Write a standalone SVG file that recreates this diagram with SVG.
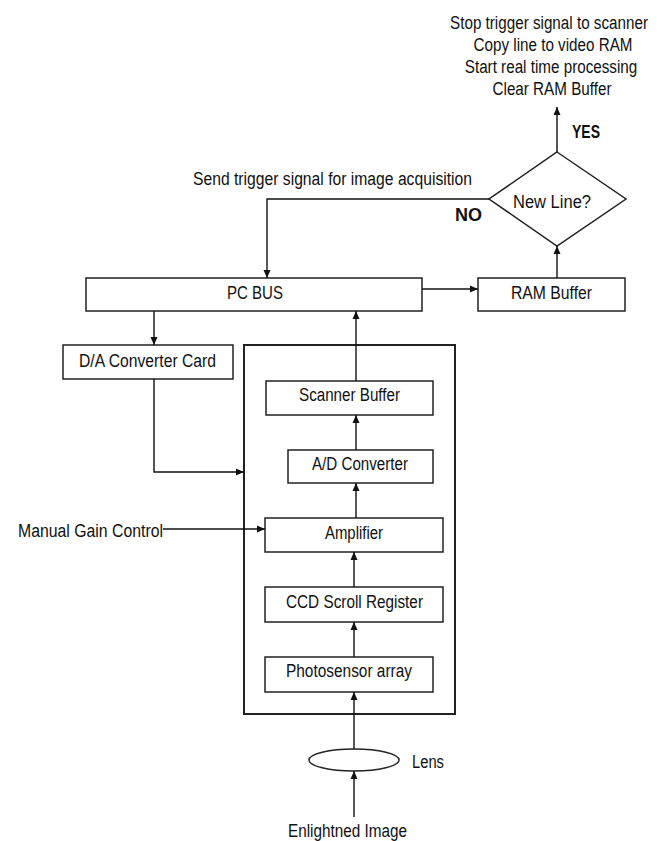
<svg xmlns="http://www.w3.org/2000/svg" width="657" height="841" viewBox="0 0 657 841">
<defs>
<marker id="ah" viewBox="0 0 8 8" refX="8" refY="4" markerWidth="8" markerHeight="8" markerUnits="userSpaceOnUse" orient="auto">
<path d="M0,0.5 L8,4 L0,7.5 z" fill="#111"/>
</marker>
<style>
text{font-family:"Liberation Sans",Arial,sans-serif;font-size:18px;fill:#111}
.b{font-weight:bold}
.m{text-anchor:middle}
.box{fill:#fff;stroke:#222;stroke-width:1.5}
.frame{fill:none;stroke:#222;stroke-width:2}
.c{fill:none;stroke:#111;stroke-width:1.4}
.ca{fill:none;stroke:#111;stroke-width:1.4;marker-end:url(#ah)}
</style>
</defs>
<rect width="657" height="841" fill="#fff"/>

<g id="outputs">
<text class="m" transform="translate(549,29) scale(0.846,1)">Stop trigger signal to scanner</text>
<text class="m" transform="translate(553,51) scale(0.846,1)">Copy line to video RAM</text>
<text class="m" transform="translate(551,73) scale(0.846,1)">Start real time processing</text>
<text class="m" transform="translate(552,95) scale(0.846,1)">Clear RAM Buffer</text>
</g>

<g id="scanner-frame">
<rect class="frame" x="244" y="345" width="211" height="369"/>
</g>

<g id="pc-bus">
<rect class="box" x="86" y="278" width="336" height="33"/>
<text x="227" y="299" textLength="56" lengthAdjust="spacingAndGlyphs">PC BUS</text>
</g>
<g id="ram-buffer">
<rect class="box" x="478" y="278" width="147" height="33"/>
<text x="511" y="299" textLength="81" lengthAdjust="spacingAndGlyphs">RAM Buffer</text>
</g>
<g id="new-line">
<polygon class="box" points="557,152 626,199 557,246 489,199"/>
<text x="513" y="208" textLength="78" lengthAdjust="spacingAndGlyphs">New Line?</text>
</g>
<g id="da-converter">
<rect class="box" x="63" y="345" width="170" height="34"/>
<text x="79" y="367" textLength="137" lengthAdjust="spacingAndGlyphs">D/A Converter Card</text>
</g>
<g id="scanner-buffer">
<rect class="box" x="266" y="381" width="167" height="34"/>
<text x="299" y="401" textLength="101" lengthAdjust="spacingAndGlyphs">Scanner Buffer</text>
</g>
<g id="ad-converter">
<rect class="box" x="288" y="450" width="145" height="33"/>
<text x="312" y="470" textLength="96" lengthAdjust="spacingAndGlyphs">A/D Converter</text>
</g>
<g id="amplifier">
<rect class="box" x="265" y="518" width="178" height="34"/>
<text x="325" y="539" textLength="58" lengthAdjust="spacingAndGlyphs">Amplifier</text>
</g>
<g id="ccd">
<rect class="box" x="265" y="587" width="178" height="35"/>
<text x="286" y="608" textLength="137" lengthAdjust="spacingAndGlyphs">CCD Scroll Register</text>
</g>
<g id="photosensor">
<rect class="box" x="265" y="657" width="168" height="35"/>
<text x="286" y="677" textLength="126" lengthAdjust="spacingAndGlyphs">Photosensor array</text>
</g>
<g id="lens">
<ellipse class="box" cx="354" cy="760" rx="45" ry="11"/>
<text x="412" y="768" textLength="32" lengthAdjust="spacingAndGlyphs">Lens</text>
</g>
<g id="image">
<text x="288" y="837" textLength="119" lengthAdjust="spacingAndGlyphs">Enlightned Image</text>
</g>
<g id="gain">
<text x="18" y="537" textLength="145" lengthAdjust="spacingAndGlyphs">Manual Gain Control</text>
</g>

<g id="connectors">
<path class="ca" d="M557,152 V107"/>
<path class="ca" d="M489,199 H267 V278"/>
<path class="ca" d="M557,278 V246"/>
<path class="ca" d="M422,289 H478"/>
<path class="ca" d="M154,311 V345"/>
<path class="ca" d="M154,379 V472 H244"/>
<path class="ca" d="M356,381 V311"/>
<path class="ca" d="M356,450 V415"/>
<path class="ca" d="M356,518 V483"/>
<path class="ca" d="M354,587 V552"/>
<path class="ca" d="M354,657 V622"/>
<path class="ca" d="M354,749 V692"/>
<path class="ca" d="M354,817 V771"/>
<path class="ca" d="M163,529 H265"/>
<text class="b" x="572" y="138" textLength="28" lengthAdjust="spacingAndGlyphs">YES</text>
<text x="193" y="185" textLength="279" lengthAdjust="spacingAndGlyphs">Send trigger signal for image acquisition</text>
<text class="b" x="455" y="221" textLength="27" lengthAdjust="spacingAndGlyphs">NO</text>
</g>
</svg>
